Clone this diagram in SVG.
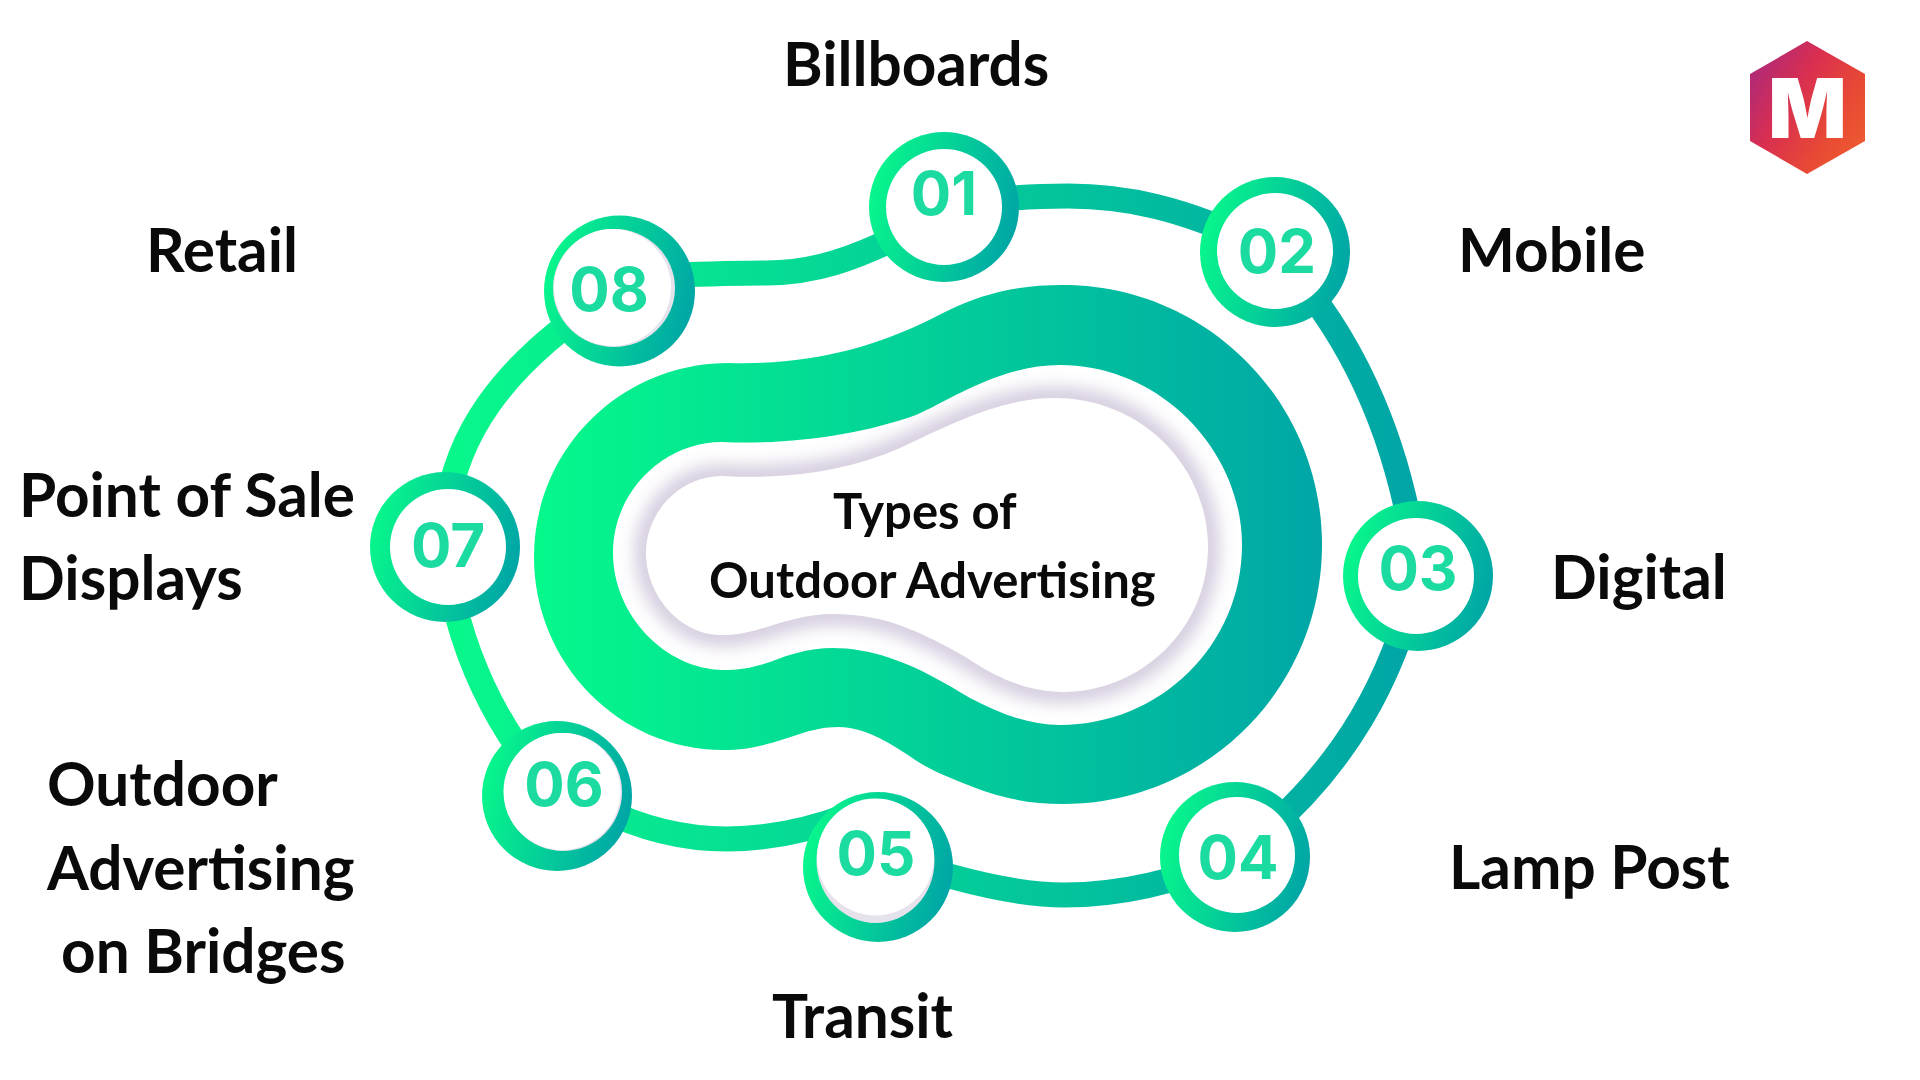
<svg xmlns="http://www.w3.org/2000/svg" width="1920" height="1080" viewBox="0 0 1920 1080">
<defs>
<style>
.lab{font-family:Lato,"Liberation Sans",sans-serif;font-weight:700;font-size:60.3px;fill:#0a0a0a}
.ctr{font-family:Lato,"Liberation Sans",sans-serif;font-weight:700;font-size:49px;fill:#0a0a0a}
.num{font-family:Inter,"Liberation Sans",sans-serif;font-weight:700;font-size:60px;fill:#1bdba0;text-anchor:middle}
.ring{fill:url(#nodeG)}
.sh{fill:#e6e2ec}
.in{fill:#fff}
.conn{fill:none;stroke:url(#ringG);stroke-width:25}
</style>
<linearGradient id="nodeG" x1="0" y1="0.35" x2="1" y2="0.6"><stop offset="0" stop-color="#08f88b"/><stop offset="1" stop-color="#00a5a6"/></linearGradient>
<linearGradient id="ringG" gradientUnits="userSpaceOnUse" x1="445" y1="0" x2="1420" y2="0"><stop offset="0" stop-color="#08f88b"/><stop offset="1" stop-color="#00a5a6"/></linearGradient>
<linearGradient id="blobG" gradientUnits="userSpaceOnUse" x1="534" y1="0" x2="1322" y2="0"><stop offset="0" stop-color="#05f98b"/><stop offset="1" stop-color="#00a6a6"/></linearGradient>
<linearGradient id="logoG" x1="0" y1="0.1" x2="1" y2="0.8"><stop offset="0" stop-color="#a8287f"/><stop offset="0.4" stop-color="#d92f50"/><stop offset="0.75" stop-color="#e84a34"/><stop offset="1" stop-color="#ee5a30"/></linearGradient>
<filter id="blur" x="-20%" y="-20%" width="140%" height="140%"><feGaussianBlur stdDeviation="9"/></filter>
<path id="holeIn" d="M646 553C646 512 680 476 722 476C790 480 850 470 900 448C950 425 1000 398 1055 398C1140 398 1208 465 1208 547C1208 630 1140 692 1063 692C1030 692 1000 680 967 658C945 645 925 635 907 628C885 619 860 614 833 614C805 614 780 623 757 630C745 633 735 635 723 635C680 636 646 595 646 553Z"/>
<clipPath id="holeClip"><path d="M613 553C613 490 665 442 722 442C790 445 860 435 916 415C950 400 1000 365 1060 365C1160 365 1242 450 1242 545C1242 645 1160 725 1060 725C1030 725 1000 714 970 698C945 683 920 668 890 658C870 651 850 648 833 648C808 648 788 655 770 662C755 667 740 670 723 670C665 669 613 615 613 553Z"/></clipPath>
</defs>
<rect width="1920" height="1080" fill="#fff"/>

<g id="connectors">
<path class="conn" d="M944 207C1000 198 1030 196 1068 196C1120 196 1180 205 1275 252"/>
<path class="conn" d="M1275 252C1345 325 1400 430 1418 576"/>
<path class="conn" d="M1418 576C1395 670 1350 770 1235 857"/>
<path class="conn" d="M1235 857C1170 885 1115 895 1064 895C1030 895 990 887 953 877L878 862"/>
<path class="conn" d="M600 808C640 828 685 839 727 839C770 839 810 830 850 815"/>
<path class="conn" d="M557 796C500 735 455 650 445 547"/>
<path class="conn" d="M446 520C452 440 500 365 610 295"/>
<path class="conn" d="M650 276C680 275 725 273 766 273C815 273 855 258 900 236"/>
</g>

<g id="center">
<path fill="url(#blobG)" d="M534 557C534 450 620 363 729 363C800 365 870 352 945 312C985 292 1020 285 1063 285C1206 285 1322 401 1322 545C1322 688 1206 804 1063 804C1030 804 1000 798 973 787C950 778 935 772 920 763C900 750 870 727 838 727C800 727 775 750 723 750C620 750 534 664 534 557Z"/>
<g clip-path="url(#holeClip)">
<rect x="600" y="350" width="660" height="390" fill="#fff"/>
<use href="#holeIn" fill="none" stroke="#cfc5d9" stroke-width="20" filter="url(#blur)"/>
</g>
<use href="#holeIn" fill="#fff"/>
<text class="ctr" x="833" y="529">Types of</text>
<text class="ctr" x="709" y="598">Outdoor Advertising</text>
</g>

<g id="node-01"><circle class="ring" cx="944" cy="207" r="75"/><circle class="in" cx="944" cy="207" r="58"/><text class="num" x="944" y="215">01</text></g>
<g id="node-02"><circle class="ring" cx="1275" cy="252" r="75"/><circle class="in" cx="1275" cy="251" r="58"/><text class="num" x="1277" y="273">02</text></g>
<g id="node-03"><circle class="ring" cx="1418" cy="576" r="75"/><circle class="in" cx="1416" cy="576" r="58"/><text class="num" x="1418" y="590">03</text></g>
<g id="node-04"><circle class="ring" cx="1235" cy="857" r="75"/><circle class="in" cx="1237" cy="855" r="58"/><text class="num" x="1238" y="879">04</text></g>
<g id="node-05"><circle class="ring" cx="878" cy="867" r="75"/><ellipse class="sh" cx="875.5" cy="861" rx="59" ry="62"/><circle class="in" cx="875.5" cy="857" r="58.5"/><text class="num" x="876" y="875">05</text></g>
<g id="node-06"><circle class="ring" cx="557" cy="796" r="75"/><circle class="sh" cx="563" cy="792" r="59"/><circle class="in" cx="562" cy="791.5" r="58.5"/><text class="num" x="564" y="806">06</text></g>
<g id="node-07"><circle class="ring" cx="445" cy="547" r="75"/><circle class="in" cx="448" cy="547" r="58"/><text class="num" x="448" y="567">07</text></g>
<g id="node-08"><circle class="ring" cx="619.5" cy="291" r="75.5"/><ellipse class="sh" cx="614" cy="288" rx="61" ry="59"/><circle class="in" cx="612.5" cy="287.5" r="58.5"/><text class="num" x="609" y="311">08</text></g>

<g id="labels">
<text class="lab" x="783" y="86">Billboards</text>
<text class="lab" x="1458" y="272">Mobile</text>
<text class="lab" x="1551" y="599">Digital</text>
<text class="lab" x="1449" y="889">Lamp Post</text>
<text class="lab" x="772" y="1038">Transit</text>
<text class="lab" x="47" y="806">Outdoor</text>
<text class="lab" x="47" y="890">Advertising</text>
<text class="lab" x="61" y="973">on Bridges</text>
<text class="lab" x="19" y="517">Point of Sale</text>
<text class="lab" x="19" y="600">Displays</text>
<text class="lab" x="146" y="272">Retail</text>
</g>

<g id="logo">
<polygon fill="url(#logoG)" points="1807,41 1865,74 1865,141 1807,174 1750,141 1750,74"/>
<text x="1807.5" y="138" text-anchor="middle" font-family="Inter,'Liberation Sans',sans-serif" font-weight="900" font-size="82" fill="#fff">M</text>
</g>
</svg>
